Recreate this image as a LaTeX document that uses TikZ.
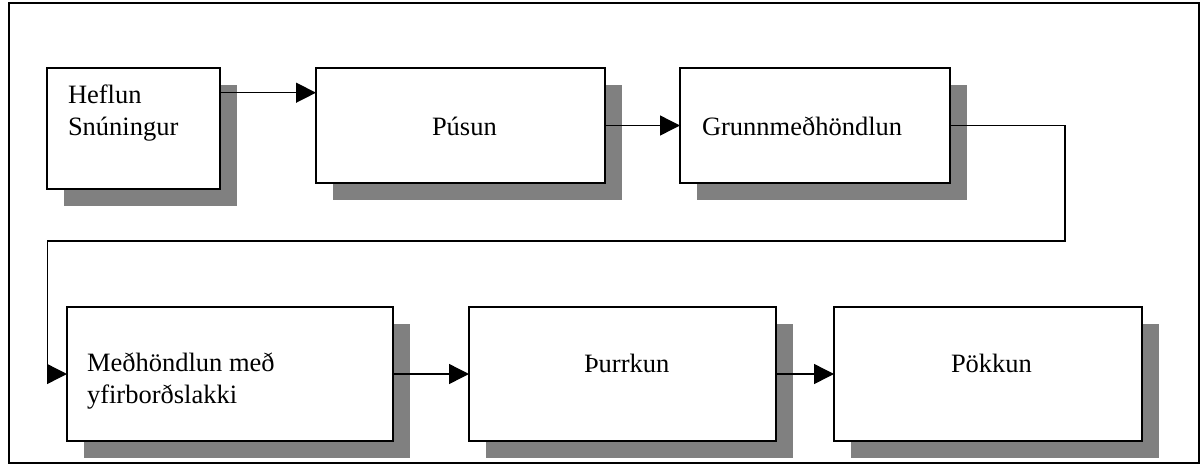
\documentclass[tikz,border=0pt]{standalone}
\usepackage{fontspec}
\setmainfont{Liberation Serif}
\usetikzlibrary{arrows.meta,backgrounds,calc}
\definecolor{shadowgray}{HTML}{808080}
\begin{document}
\begin{tikzpicture}[x=1pt,y=-1pt,
  box/.style={draw=black, line width=1.7pt, fill=white, inner sep=0pt, outer sep=0pt},
  lbl/.style={inner sep=0pt, outer sep=0pt, align=left, font=\fontsize{26.5}{31.5}\selectfont},
  conn/.style={draw=black, line width=1.4pt, -{Triangle[length=20pt,width=20pt]}},
  shade/.style={fill=shadowgray}]
\useasboundingbox (0,0) rectangle (1201,464);
\draw[line width=1.3pt] (9,3) rectangle (1199,463);

% boxes
\node[box, minimum width=173pt, minimum height=121pt] (heflun) at (133.5,128.5) {};
\node[box, minimum width=289pt, minimum height=115pt] (pusun) at (460.5,125.5) {};
\node[box, minimum width=270pt, minimum height=115pt] (grunn) at (815,125.5) {};
\node[box, minimum width=326pt, minimum height=134pt] (medh) at (230,374) {};
\node[box, minimum width=307pt, minimum height=134pt] (thurr) at (622.5,374) {};
\node[box, minimum width=308pt, minimum height=134pt] (pokk) at (988,374) {};

% shadows
\begin{scope}[on background layer]
\foreach \n in {heflun,pusun,grunn,medh,thurr,pokk}{
  \fill[shade] ([shift={(17,17)}]\n.north west) rectangle ([shift={(17,17)}]\n.south east);
}
\end{scope}

% texts
\node[lbl, anchor=base west] (heflun-t) at (68,135) {Heflun\\Snúningur};
\node[lbl, anchor=base west] (pusun-t) at (432,135) {Púsun};
\node[lbl, anchor=base west] (grunn-t) at (702,135) {Grunnmeðhöndlun};
\node[lbl, anchor=base west] (medh-t) at (87,403) {Meðhöndlun með\\yfirborðslakki};
\node[lbl, anchor=base west] (thurr-t) at (584,372) {Þurrkun};
\node[lbl, anchor=base west] (pokk-t) at (951,372) {Pökkun};

% connectors
\coordinate (c1) at (1065,241);
\coordinate (c2) at (47.5,241);
\draw[conn] ([yshift=-24.7pt]heflun.north east) -- ([yshift=-24.7pt]pusun.north west);
\draw[conn] (pusun.east) -- (grunn.west);
\draw[conn] (grunn.east) -| (c1) -- (c2) |- (medh.west);
\draw[conn] (medh.east) -- (thurr.west);
\draw[conn] (thurr.east) -- (pokk.west);
\end{tikzpicture}
\end{document}
